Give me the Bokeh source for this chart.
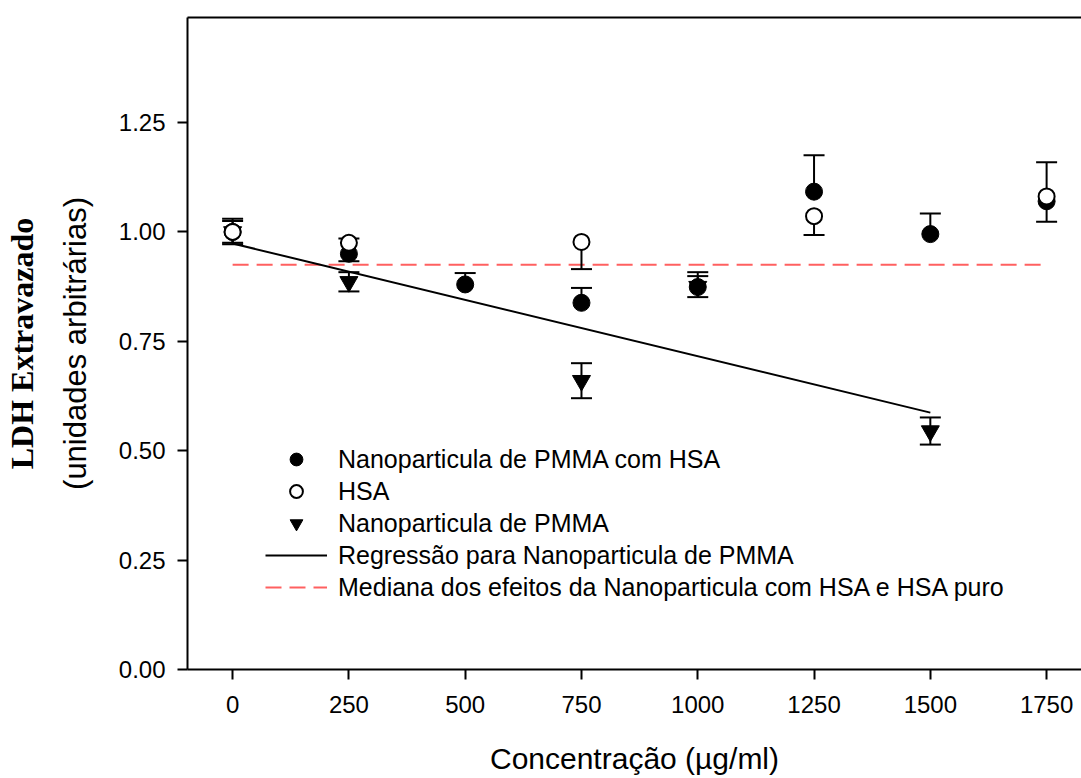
import numpy as np
from bokeh.plotting import figure
from bokeh.models import (LinearAxis, FixedTicker, PrintfTickFormatter, Legend,
                          LegendItem, Range1d)
from bokeh.embed import file_html
from bokeh.resources import INLINE

# ---- data ----
conc_nphsa = [0, 250, 500, 750, 1000, 1250, 1500, 1750]
ldh_nphsa = [1.000, 0.950, 0.880, 0.838, 0.874, 1.092, 0.995, 1.070]
err_nphsa = [0.030, 0.035, 0.026, 0.034, 0.034, 0.083, 0.047, 0.089]

conc_hsa = [0, 250, 750, 1250, 1750]
ldh_hsa = [1.000, 0.975, 0.977, 1.036, 1.081]
err_hsa = [0.028, 0.042, 0.062, 0.043, 0.058]

conc_np = [0, 250, 750, 1000, 1500]
ldh_np = [1.000, 0.886, 0.660, 0.875, 0.545]
err_np = [0.025, 0.022, 0.040, 0.024, 0.031]

median_level = 0.925

x_ticks = [0, 250, 500, 750, 1000, 1250, 1500, 1750]
y_ticks = [0.0, 0.25, 0.5, 0.75, 1.0, 1.25]

labels = ["Nanoparticula de PMMA com HSA", "HSA", "Nanoparticula de PMMA",
          "Regressão para Nanoparticula de PMMA",
          "Mediana dos efeitos da Nanoparticula com HSA e HSA puro"]
x_title = "Concentração (µg/ml)"
y_title = "(unidades arbitrárias)"
y_title_bold = "LDH Extravazado"

FONT = "Liberation Sans"
RED = "#FF6060"

p = figure(width=1081, height=778, output_backend="svg", toolbar_location=None,
           x_range=Range1d(-97, 1825), y_range=Range1d(0, 1.49),
           min_border_left=187, min_border_right=0, min_border_top=17,
           min_border_bottom=109, outline_line_color=None)
p.outline_line_alpha = 0
p.grid.visible = False
p.background_fill_color = "white"

for ax in (p.xaxis[0], p.yaxis[0]):
    ax.axis_line_width = 2
    ax.major_tick_line_width = 2
    ax.major_tick_in = 0
    ax.major_tick_out = 10
    ax.minor_tick_line_color = None
    ax.major_label_text_font = FONT
    ax.major_label_text_font_size = "24px"
    ax.major_label_text_color = "black"
    ax.axis_label_text_font = FONT
    ax.axis_label_text_font_style = "normal"
    ax.axis_label_text_color = "black"

p.xaxis.ticker = FixedTicker(ticks=x_ticks)
p.xaxis.major_label_standoff = 16
p.xaxis.axis_label = x_title
p.xaxis.axis_label_text_font_size = "30px"
p.xaxis.axis_label_standoff = 26

p.yaxis.ticker = FixedTicker(ticks=y_ticks)
p.yaxis.major_label_standoff = 12
p.yaxis.formatter = PrintfTickFormatter(format="%.2f")
p.yaxis.axis_label = y_title
p.yaxis.axis_label_text_font_size = "31px"
p.yaxis.axis_label_standoff = 23

top_axis = LinearAxis(ticker=FixedTicker(ticks=[]), axis_line_width=2,
                      major_tick_line_color=None, minor_tick_line_color=None,
                      major_label_standoff=0)
p.add_layout(top_axis, "above")

bold_axis = LinearAxis(ticker=FixedTicker(ticks=[]), axis_line_color=None,
                       major_tick_line_color=None, minor_tick_line_color=None,
                       major_tick_out=0, major_tick_in=0, major_label_standoff=0,
                       axis_label=y_title_bold, axis_label_standoff=15,
                       axis_label_text_font="Liberation Serif",
                       axis_label_text_font_style="bold",
                       axis_label_text_font_size="32px",
                       axis_label_text_color="black")
p.add_layout(bold_axis, "left")

# regression for PMMA nanoparticles
coef = np.polyfit(conc_np, ldh_np, 1)
reg_x = [min(conc_np), max(conc_np)]
reg_y = list(np.polyval(coef, reg_x))

r_med = p.line([conc_nphsa[0], conc_nphsa[-1]], [median_level, median_level],
               line_color=RED, line_width=2, line_dash="16 8")
r_reg = p.line(reg_x, reg_y, line_color="black", line_width=2)

# triangles (both-sided error bars)
np_lo = [v - e for v, e in zip(ldh_np, err_np)]
np_hi = [v + e for v, e in zip(ldh_np, err_np)]
p.segment(conc_np, np_lo, conc_np, np_hi, line_color="black", line_width=2)
p.scatter(conc_np, np_lo, marker="dash", size=21, line_color="black", line_width=2)
p.scatter(conc_np, np_hi, marker="dash", size=21, line_color="black", line_width=2)
r_np = p.scatter(conc_np, ldh_np, marker="inverted_triangle", size=18,
                 fill_color="black", line_color="black")

# filled circles (upper error bars)
nphsa_hi = [v + e for v, e in zip(ldh_nphsa, err_nphsa)]
p.segment(conc_nphsa, ldh_nphsa, conc_nphsa, nphsa_hi, line_color="black", line_width=2)
p.scatter(conc_nphsa, nphsa_hi, marker="dash", size=21, line_color="black", line_width=2)
r_nphsa = p.scatter(conc_nphsa, ldh_nphsa, marker="circle", size=17,
                    fill_color="black", line_color="black")

# open circles (lower error bars)
hsa_lo = [v - e for v, e in zip(ldh_hsa, err_hsa)]
p.segment(conc_hsa, hsa_lo, conc_hsa, ldh_hsa, line_color="black", line_width=2)
p.scatter(conc_hsa, hsa_lo, marker="dash", size=21, line_color="black", line_width=2)
r_hsa = p.scatter(conc_hsa, ldh_hsa, marker="circle", size=16,
                  fill_color="white", line_color="black", line_width=2)

legend = Legend(items=[LegendItem(label=labels[0], renderers=[r_nphsa]),
                       LegendItem(label=labels[1], renderers=[r_hsa]),
                       LegendItem(label=labels[2], renderers=[r_np]),
                       LegendItem(label=labels[3], renderers=[r_reg]),
                       LegendItem(label=labels[4], renderers=[r_med])],
                location=(78, 66), glyph_width=62, glyph_height=32, label_height=32,
                spacing=0, label_standoff=11, padding=0, margin=0,
                border_line_color=None, background_fill_alpha=0,
                label_text_font=FONT, label_text_font_size="25px",
                label_text_color="black")
p.add_layout(legend)

open("out.html", "w").write(file_html(p, INLINE))
